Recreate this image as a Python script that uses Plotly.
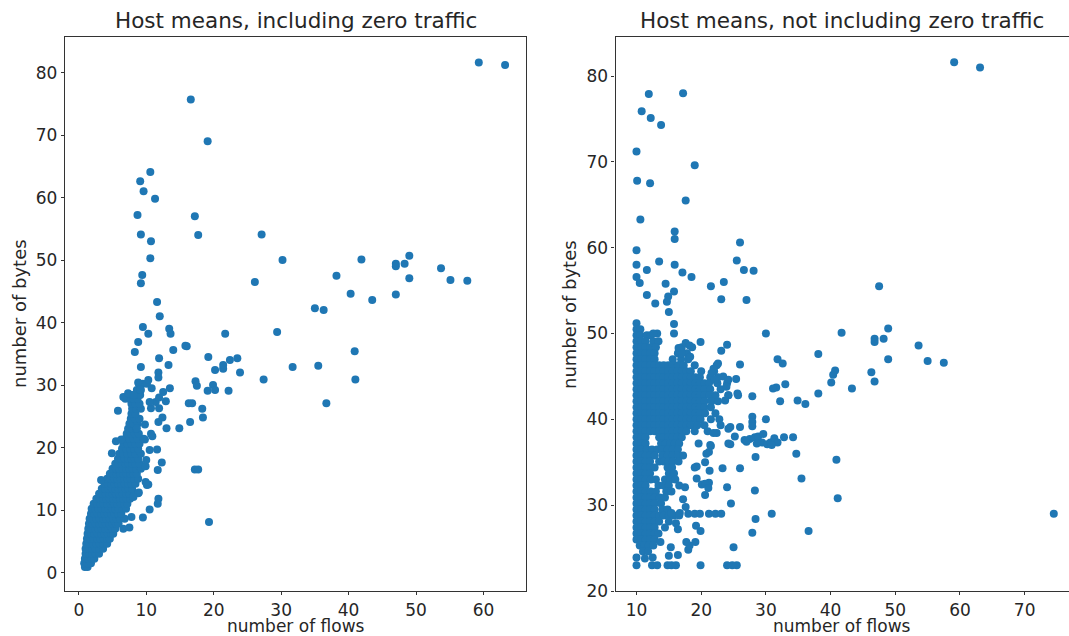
import plotly.graph_objects as go

# ---------------- data ----------------
# Left panel: sparse / outlying hosts (x = flows, y = bytes)
left_sparse_x = [59.3, 63.2, 16.6, 19.1, 10.6, 9.1, 9.6, 11.3, 8.7, 17.2, 9.2, 17.7, 27.1, 10.7, 10.6,
                 30.2, 41.9, 49.0, 47.0, 47.0, 48.3, 9.4, 9.2, 26.1, 38.2, 49.0, 53.7, 55.1, 57.6, 40.3,
                 47.0, 43.5, 11.6, 35.0, 36.3, 12.0, 9.5, 10.3, 13.4, 13.6, 21.7, 29.4, 8.8, 16.0, 14.0,
                 8.3, 40.9, 11.9, 19.2, 23.5, 22.4, 9.2, 13.3, 20.2, 21.4, 21.4, 31.7, 35.5, 23.9, 11.8,
                 11.8, 17.3, 17.5, 27.4, 41.0, 10.3, 10.8, 8.8, 9.1, 19.1, 19.9, 20.2, 22.2, 13.5, 12.5,
                 12.9, 36.7, 16.3, 16.8, 11.4, 10.7, 11.9, 18.3, 18.4, 12.4, 16.5, 14.9, 13.0, 5.8, 6.6,
                 7.3, 8.1, 17.2, 17.7, 19.3, 4.9, 5.5, 6.3, 3.3, 11.7, 12.3, 11.6, 10.5, 10.9, 11.8,
                 11.7, 10.5, 9.5, 7.5, 7.8, 10.3, 8.9, 9.9, 9.8, 10.0, 10.1, 9.9, 8.8, 8.1, 11.9,
                 10.5, 11.8, 9.8, 10.7, 8.6, 15.8]
left_sparse_y = [81.6, 81.2, 75.7, 69.0, 64.1, 62.6, 61.0, 59.8, 57.2, 57.0, 54.1, 54.0, 54.1, 53.0, 50.3,
                 50.0, 50.1, 50.7, 49.4, 49.0, 49.4, 47.6, 46.3, 46.5, 47.5, 47.1, 48.7, 46.8, 46.7, 44.6,
                 44.5, 43.6, 43.3, 42.3, 42.0, 41.0, 39.3, 38.2, 39.0, 38.2, 38.2, 38.5, 36.9, 36.2, 35.6,
                 35.3, 35.4, 34.3, 34.5, 34.3, 34.0, 32.9, 33.2, 32.4, 32.6, 33.2, 32.9, 33.1, 32.0, 32.0,
                 31.2, 30.6, 29.9, 30.9, 30.9, 30.8, 29.5, 30.4, 29.3, 29.1, 30.0, 29.2, 29.1, 29.5, 28.9,
                 27.4, 27.1, 27.1, 27.1, 27.3, 26.3, 26.3, 26.2, 24.8, 24.8, 24.1, 23.1, 23.1, 25.9, 28.1,
                 28.7, 28.4, 16.5, 16.5, 8.1, 19.1, 21.0, 21.3, 14.8, 16.4, 17.6, 19.7, 19.6, 21.8, 11.8,
                 11.0, 10.1, 8.8, 7.2, 8.9, 14.1, 12.8, 17.0, 21.3, 18.0, 14.0, 14.5, 12.7, 12.1, 28.0,
                 27.3, 24.1, 23.7, 22.2, 23.1, 36.3]

# Left panel: the dense wedge of small hosts, listed row by row (bytes level -> flows values)
left_dense_rows = {
    0.9: [0.9, 1.3],
    1.5: [0.8, 1.3, 1.8],
    2.2: [0.9, 1.4, 1.9, 2.3],
    3.0: [1.0, 1.5, 2.0, 2.5, 3.0],
    3.8: [1.0, 1.5, 2.0, 2.5, 3.0, 3.6],
    4.6: [1.1, 1.6, 2.1, 2.6, 3.1, 3.6, 4.2],
    5.4: [1.2, 1.7, 2.2, 2.7, 3.2, 3.7, 4.2, 4.6],
    6.2: [1.3, 1.8, 2.3, 2.8, 3.3, 3.8, 4.3, 4.8, 5.1],
    7.0: [1.4, 1.9, 2.4, 2.9, 3.4, 3.9, 4.4, 4.9, 5.4, 6.6],
    7.8: [1.5, 2.0, 2.5, 3.0, 3.5, 4.0, 4.5, 5.0, 5.5, 5.9],
    8.6: [1.6, 2.1, 2.6, 3.1, 3.6, 4.1, 4.6, 5.1, 5.6, 6.1, 6.8],
    9.4: [1.8, 2.3, 2.8, 3.3, 3.8, 4.3, 4.8, 5.3, 5.8, 6.3],
    10.2: [1.9, 2.4, 2.9, 3.4, 3.9, 4.4, 4.9, 5.4, 5.9, 6.4, 7.0],
    11.0: [2.2, 2.7, 3.2, 3.7, 4.2, 4.7, 5.2, 5.7, 6.2, 6.7, 7.2],
    11.8: [2.6, 3.1, 3.6, 4.1, 4.6, 5.1, 5.6, 6.1, 6.6, 7.1, 7.6],
    12.6: [3.0, 3.5, 4.0, 4.5, 5.0, 5.5, 6.0, 6.5, 7.0, 7.5, 8.2],
    13.4: [3.4, 3.9, 4.4, 4.9, 5.4, 5.9, 6.4, 6.9, 7.4, 7.9],
    14.2: [3.8, 4.3, 4.8, 5.3, 5.8, 6.3, 6.8, 7.3, 7.8, 8.4],
    15.0: [4.2, 4.7, 5.2, 5.7, 6.2, 6.7, 7.2, 7.7, 8.2, 8.8],
    15.8: [4.6, 5.1, 5.6, 6.1, 6.6, 7.1, 7.6, 8.1, 8.6],
    16.6: [5.0, 5.5, 6.0, 6.5, 7.0, 7.5, 8.0, 8.5, 9.2],
    17.4: [5.4, 5.9, 6.4, 6.9, 7.4, 7.9, 8.4, 9.0],
    18.2: [5.8, 6.3, 6.8, 7.3, 7.8, 8.3, 8.8],
    19.0: [6.0, 6.6, 7.2, 7.8, 8.4, 9.2],
    19.8: [6.4, 7.0, 7.6, 8.2, 8.8],
    20.6: [6.6, 7.2, 7.8, 8.4, 9.0],
    21.4: [6.9, 7.5, 8.1, 8.7, 9.6],
    22.2: [7.1, 7.7, 8.3, 8.9],
    23.0: [7.3, 7.9, 8.5],
    23.8: [7.5, 8.1, 8.7],
    24.6: [7.7, 8.3, 9.0],
    25.4: [7.8, 8.4],
    26.2: [7.9, 8.5, 9.2],
    27.0: [7.8, 8.4, 9.0],
    27.8: [6.9, 7.5, 8.1, 8.7],
    28.4: [7.8, 8.4, 9.1],
    29.2: [8.6, 9.2],
    30.2: [8.9, 9.5, 10.1],
}

# Right panel: sparse / outlying hosts
right_sparse_x = [59.1, 63.1, 11.9, 17.2, 10.8, 12.2, 13.8, 10.0, 19.0, 10.1, 12.1, 17.6, 10.6, 15.9, 15.9,
                  26.0, 10.0, 13.5, 25.5, 10.0, 15.9, 11.6, 26.6, 28.1, 17.1, 18.5, 23.5, 10.0, 10.5, 14.5,
                  21.5, 47.5, 15.8, 14.9, 11.6, 14.7, 12.9, 23.1, 27.0, 15.0, 15.8, 13.2, 15.8, 12.6, 30.0,
                  41.7, 46.8, 46.8, 48.2, 48.9, 53.6, 55.0, 57.5, 48.9, 38.1, 19.9, 24.0, 23.1, 17.6, 18.2,
                  16.5, 17.0, 18.3, 26.0, 31.8, 32.6, 40.7, 40.4, 40.1, 46.3, 46.8, 43.3, 33.0, 31.6, 31.1,
                  25.4, 38.1, 27.9, 25.6, 34.9, 36.1, 32.2, 30.0, 26.0, 27.9, 27.9, 27.9, 24.5, 24.2, 22.4,
                  26.7, 27.5, 28.3, 28.8, 29.4, 30.2, 30.7, 31.3, 31.8, 32.8, 34.2, 24.5, 25.2, 29.6, 30.9,
                  28.6, 27.0, 22.6, 21.9, 21.6, 22.1, 23.4, 24.2, 23.9, 24.2, 23.7, 25.7, 28.4, 34.7, 35.5,
                  40.9, 41.1, 26.0, 23.3, 24.0, 28.3, 24.6, 30.9, 74.5, 28.4, 27.9, 36.6, 25.0, 25.5, 24.8,
                  24.0, 19.9, 14.8, 15.4, 16.1, 10.0, 12.4, 13.2, 10.0, 11.3, 12.5, 18.0, 19.0, 19.8, 21.2,
                  22.2, 23.1, 16.7, 15.4, 18.0, 18.2, 19.1, 17.7, 16.4, 16.1, 19.9, 19.2, 15.3, 15.0, 16.4,
                  13.7, 20.1, 20.6, 21.2, 21.3, 19.3, 20.6, 21.2, 21.5, 19.6, 20.8, 19.3, 20.6, 21.1, 17.5,
                  17.2, 17.6, 21.4, 21.9, 24.2]
right_sparse_y = [81.6, 81.0, 77.9, 78.0, 75.9, 75.1, 74.3, 71.2, 69.6, 67.8, 67.5, 65.5, 63.3, 61.9, 61.0,
                  60.6, 59.7, 58.4, 58.5, 58.0, 58.0, 57.4, 57.4, 57.3, 57.1, 56.6, 56.0, 56.6, 55.9, 55.8,
                  55.5, 55.5, 54.9, 54.3, 54.5, 53.7, 53.5, 54.0, 53.9, 52.5, 51.1, 50.0, 50.0, 50.0, 50.0,
                  50.1, 49.4, 49.0, 49.4, 50.6, 48.6, 46.8, 46.6, 47.0, 47.6, 49.0, 48.7, 48.0, 48.9, 48.6,
                  48.3, 47.7, 47.3, 46.4, 47.0, 46.5, 45.7, 45.2, 44.3, 45.5, 44.4, 43.6, 44.1, 43.7, 43.6,
                  44.7, 43.0, 42.7, 43.0, 42.2, 41.8, 42.1, 40.0, 39.1, 40.3, 39.7, 39.2, 39.1, 38.9, 38.4,
                  37.6, 37.7, 37.9, 38.0, 37.3, 37.1, 37.3, 37.8, 37.3, 37.9, 37.9, 37.1, 38.0, 38.3, 37.0,
                  37.2, 37.4, 46.5, 45.9, 45.4, 44.6, 45.0, 44.6, 43.8, 42.8, 42.2, 42.8, 35.6, 36.0, 33.1,
                  35.3, 30.8, 34.3, 34.3, 32.1, 31.7, 30.2, 29.0, 29.0, 28.4, 26.8, 27.0, 25.1, 23.0, 23.0,
                  23.0, 23.0, 23.0, 23.0, 23.0, 23.0, 23.0, 23.0, 23.9, 23.8, 23.9, 29.0, 29.0, 29.0, 29.0,
                  29.0, 29.0, 29.1, 29.1, 24.8, 25.3, 25.7, 25.7, 27.2, 27.9, 27.0, 27.6, 25.1, 24.1, 24.2,
                  25.7, 32.4, 31.2, 32.6, 34.0, 33.1, 35.0, 36.2, 36.9, 37.2, 36.0, 34.5, 32.5, 32.0, 32.1,
                  30.7, 29.8, 37.0, 38.4, 37.2]

# Right panel: dense body of hosts, row by row (bytes level -> flows values)
right_dense_rows = {
    51.2: [10.0],
    50.5: [10.0, 10.6],
    49.8: [10.0, 10.6, 11.6, 12.2],
    49.1: [10.0, 10.7, 11.4, 12.6, 13.4],
    48.4: [10.0, 10.7, 11.4, 12.1, 13.0, 17.0, 18.6],
    47.7: [10.0, 10.7, 11.4, 12.1, 12.8, 16.4, 17.8],
    47.0: [10.0, 10.7, 11.4, 12.1, 12.8, 15.6, 16.9, 18.0],
    46.3: [10.0, 10.7, 11.4, 12.1, 12.8, 13.5, 14.2, 14.9, 15.6, 16.4, 17.3, 19.0, 22.4],
    45.6: [10.0, 10.7, 11.4, 12.1, 12.8, 13.5, 14.2, 14.9, 15.6, 16.3, 17.0, 17.7, 18.4, 20.0, 22.0],
    44.9: [10.0, 10.7, 11.4, 12.1, 12.8, 13.5, 14.2, 14.9, 15.6, 16.3, 17.0, 17.7, 18.4, 19.1, 19.8,
           21.4, 22.6],
    44.2: [10.0, 10.7, 11.4, 12.1, 12.8, 13.5, 14.2, 14.9, 15.6, 16.3, 17.0, 17.7, 18.4, 19.1, 19.8,
           20.5, 21.2, 22.5, 24.0],
    43.5: [10.0, 10.7, 11.4, 12.1, 12.8, 13.5, 14.2, 14.9, 15.6, 16.3, 17.0, 17.7, 18.4, 19.1, 19.8,
           20.5, 21.4, 23.0],
    42.8: [10.0, 10.7, 11.4, 12.1, 12.8, 13.5, 14.2, 14.9, 15.6, 16.3, 17.0, 17.7, 18.4, 19.1, 19.8,
           20.5, 21.3, 22.2, 24.2],
    42.1: [10.0, 10.7, 11.4, 12.1, 12.8, 13.5, 14.2, 14.9, 15.6, 16.3, 17.0, 17.7, 18.4, 19.1, 19.8,
           20.5, 21.6, 22.6],
    41.4: [10.0, 10.7, 11.4, 12.1, 12.8, 13.5, 14.2, 14.9, 15.6, 16.3, 17.0, 17.7, 18.4, 19.1, 19.8,
           20.5, 21.5],
    40.7: [10.0, 10.7, 11.4, 12.1, 12.8, 13.5, 14.2, 14.9, 15.6, 16.3, 17.0, 17.7, 18.4, 19.1, 19.8,
           20.6, 22.2],
    40.0: [10.0, 10.7, 11.4, 12.1, 12.8, 13.5, 14.2, 14.9, 15.6, 16.3, 17.0, 17.7, 18.4, 19.1, 19.9,
           21.5, 22.8],
    39.3: [10.0, 10.7, 11.4, 12.1, 12.8, 13.5, 14.2, 14.9, 15.6, 16.3, 17.0, 17.7, 18.4, 19.4, 20.5,
           23.0],
    38.6: [10.0, 10.7, 11.4, 12.1, 12.8, 13.5, 14.2, 14.9, 15.6, 16.3, 17.0, 17.7, 19.0, 21.0],
    37.9: [10.0, 10.7, 11.4, 13.5, 14.2, 14.9, 15.6, 16.3, 17.0],
    37.2: [10.0, 10.7, 11.4, 13.8, 14.5, 15.2, 15.9, 16.6],
    36.5: [10.0, 10.7, 11.6, 12.4, 13.2, 14.0, 14.8, 15.6, 16.4],
    35.8: [10.0, 10.7, 11.4, 12.1, 12.8, 14.0, 14.8, 15.6, 16.4, 17.2],
    35.1: [10.0, 10.7, 11.4, 12.1, 13.5, 14.2, 14.9, 15.6, 16.5],
    34.4: [10.0, 10.7, 11.4, 12.1, 12.8, 14.8, 15.5, 19.0],
    33.7: [10.0, 10.7, 11.4, 12.1, 15.0, 15.8],
    33.0: [10.0, 10.7, 11.4, 12.2, 13.0, 14.4, 15.2, 16.0],
    32.3: [10.0, 10.7, 11.4, 13.4, 14.2, 15.0, 16.6],
    31.6: [10.0, 10.7, 11.4, 12.2, 13.0, 14.6, 15.4],
    30.9: [10.0, 10.7, 11.4, 12.1, 12.8, 13.6, 14.4],
    30.2: [10.0, 10.7, 11.4, 12.1, 12.8, 13.8],
    29.5: [10.0, 10.7, 11.4, 12.1, 12.8, 14.0, 14.8],
    28.8: [10.0, 10.7, 11.4, 12.1, 12.8, 13.5, 14.2, 15.0, 15.8, 16.6],
    28.1: [10.0, 10.7, 11.4, 12.1, 12.8, 13.5, 15.0],
    27.4: [10.0, 10.7, 11.4, 12.1, 12.8, 14.4],
    26.7: [10.0, 10.7, 11.4, 12.1, 12.8, 13.4],
    26.0: [10.0, 10.7, 11.4, 12.1, 12.8],
    25.3: [10.5, 11.2, 11.9, 12.6],
    24.6: [11.0, 11.8],
}

titles = ["Host means, including zero traffic", "Host means, not including zero traffic"]
x_label = "number of flows"
y_label = "number of bytes"


def flatten(rows):
    xs, ys = [], []
    for yv, xvals in rows.items():
        for xv in xvals:
            xs.append(xv)
            ys.append(yv)
    return xs, ys


ldx, ldy = flatten(left_dense_rows)
rdx, rdy = flatten(right_dense_rows)

# ---------------- figure ----------------
W, H = 1069, 636
T, B = 37, 45
PH = H - T - B
BLUE = "#1f77b4"
FONT = "DejaVu Sans"
marker = dict(color=BLUE, size=8, line=dict(width=0))

fig = go.Figure()
fig.add_trace(go.Scatter(x=ldx + left_sparse_x, y=ldy + left_sparse_y, mode="markers",
                         marker=marker, xaxis="x", yaxis="y", showlegend=False, hoverinfo="x+y"))
fig.add_trace(go.Scatter(x=rdx + right_sparse_x, y=rdy + right_sparse_y, mode="markers",
                         marker=marker, xaxis="x2", yaxis="y2", showlegend=False, hoverinfo="x+y"))

axis_common = dict(showgrid=False, zeroline=False, showline=True, linecolor="#333333", linewidth=1.3,
                   ticks="outside", ticklen=3, tickwidth=1.3, tickcolor="#333333",
                   tickfont=dict(family=FONT, size=17, color="#262626"), automargin=False, dtick=10)

l0, l1 = 65 / W, 526 / W
r0, r1 = 615.6 / W, 1.0

fig.update_layout(
    width=W, height=H,
    margin=dict(l=0, r=0, t=T, b=B, pad=0),
    paper_bgcolor="white", plot_bgcolor="white",
    font=dict(family=FONT, color="#262626"),
    xaxis=dict(axis_common, domain=[l0, l1], range=[-2.05, 66.3], mirror=True, anchor="y", tick0=0),
    yaxis=dict(axis_common, domain=[0, 1], range=[-2.95, 85.7], mirror=True, anchor="x", tick0=0),
    xaxis2=dict(axis_common, domain=[r0, r1], range=[6.77, 76.85], mirror=True, anchor="y2", tick0=10),
    yaxis2=dict(axis_common, domain=[0, 1], range=[20.0, 84.55], mirror=False, anchor="x2", tick0=20),
)


def py(p):
    return (H - B - p) / PH


ann = []
for cx, title in [((65 + 526) / 2 / W, titles[0]), ((615.6 + 1069) / 2 / W, titles[1])]:
    ann.append(dict(text=title, x=cx, y=py(20), xref="paper", yref="paper", showarrow=False,
                    xanchor="center", yanchor="middle", font=dict(family=FONT, size=21.5, color="#262626")))
for cx in [(65 + 526) / 2 / W, (615.6 + 1069) / 2 / W]:
    ann.append(dict(text=x_label, x=cx, y=py(637), xref="paper", yref="paper", showarrow=False,
                    xanchor="center", yanchor="bottom", borderpad=0,
                    font=dict(family=FONT, size=17, color="#262626")))
for lx in [19 / W, 569 / W]:
    ann.append(dict(text=y_label, x=lx, y=py(314), xref="paper", yref="paper", showarrow=False,
                    textangle=-90, xanchor="center", yanchor="middle",
                    font=dict(family=FONT, size=18, color="#262626")))
fig.update_layout(annotations=ann)

fig.write_html("out.html", config={"displayModeBar": False},
               post_script="document.body.style.margin='0px';document.body.style.overflow='hidden';")
